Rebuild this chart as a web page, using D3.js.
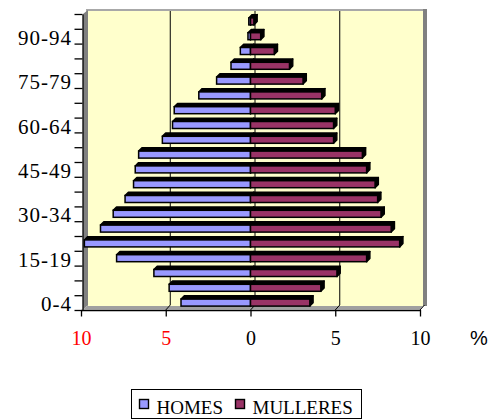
<!DOCTYPE html>
<html>
<head>
<meta charset="utf-8">
<script src="https://cdn.jsdelivr.net/npm/d3@7"></script>
<style>
  html, body { margin: 0; padding: 0; background: #ffffff; }
  svg { display: block; }
  .serif { font-family: "Liberation Serif", "Tinos", "Times New Roman", serif; }
  .sans { font-family: "Liberation Sans", Arial, sans-serif; }
</style>
</head>
<body>
<svg id="chart" width="492" height="420"></svg>
<script>
// ---- data ----
const categories = ["0-4","5-9","10-14","15-19","20-24","25-29","30-34","35-39","40-44","45-49",
                    "50-54","55-59","60-64","65-69","70-74","75-79","80-84","85-89","90-94","95-99"];
const homes    = [4.1, 4.8, 5.7, 7.9, 9.8, 8.85, 8.1, 7.4, 6.9, 6.8, 6.6, 5.2, 4.6, 4.5, 3.05, 2.0, 1.15, 0.6, 0.15, 0.1];
const mulleres = [3.5, 4.15, 5.1, 6.85, 8.8, 8.3, 7.7, 7.5, 7.35, 6.85, 6.6, 4.9, 4.9, 5.0, 4.2, 3.1, 2.3, 1.4, 0.6, 0.2];
const labelledCategories = ["0-4","15-19","30-34","45-49","60-64","75-79","90-94"];
const valueTicks = [-10, -5, 0, 5, 10];
const seriesNames = ["HOMES", "MULLERES"];
const seriesColors = ["#9999FF", "#993366"];

// ---- layout ----
const svg = d3.select("#chart");
const fx0 = 81, fx1 = 420, fyBottom = 310, fyTop = 14;   // front plane
const ddx = 5;                                            // wall depth offset
const x = d3.scaleLinear().domain([-10, 10]).range([fx0, fx1]);
const y = d3.scaleBand().domain(categories).range([fyBottom, fyTop]).padding(0);
const yIdx = d3.scaleLinear().domain([0, categories.length]).range([fyBottom, fyTop]);

// back wall
svg.append("rect").attr("x", 86).attr("y", 9).attr("width", 341).attr("height", 297).attr("fill", "#a8a8a8");
svg.append("rect").attr("x", 423).attr("y", 9).attr("width", 4).attr("height", 297).attr("fill", "#808080");
svg.append("rect").attr("x", 88).attr("y", 11).attr("width", 335).attr("height", 294).attr("fill", "#FFFFCC");
// side wall
svg.append("polygon")
  .attr("points", [[83,14],[88,10],[88,305],[83,309.5]].map(p => p.join(",")).join(" "))
  .attr("fill", "#808080");
// floor
svg.append("polygon")
  .attr("points", [[83,309.5],[88,305],[424,305],[420,309.5]].map(p => p.join(",")).join(" "))
  .attr("fill", "#a0a0a0");
svg.append("line").attr("x1", 88).attr("x2", 423).attr("y1", 305.5).attr("y2", 305.5)
  .attr("stroke", "#FFFFCC").attr("stroke-width", 1);

// gridlines on wall and floor
const grid = svg.append("g").attr("stroke", "#000").attr("stroke-width", 1).attr("fill", "none");
valueTicks.filter(v => v > -10 && v < 10).forEach(v => {
  grid.append("line").attr("x1", x(v) + ddx - 0.5).attr("x2", x(v) + ddx - 0.5)
    .attr("y1", 11).attr("y2", 305);
});
valueTicks.forEach(v => {
  if (v === -10) return;
  grid.append("line").attr("x1", x(v) + ddx - 0.5).attr("y1", 305)
    .attr("x2", x(v)).attr("y2", fyBottom);
});

// bars
const d = 3.3, bh = 7;
function drawBar(g, x0, x1, yc, color) {
  const yt = yc - bh / 2, yb = yc + bh / 2;
  g.append("polygon")
    .attr("points", [[x0, yt], [x1, yt], [x1 + d, yt - d], [x0 + d, yt - d]].map(p => p.join(",")).join(" "))
    .attr("fill", "#000").attr("stroke", "#000").attr("stroke-width", 1.4).attr("stroke-linejoin", "round");
  g.append("polygon")
    .attr("points", [[x1, yt], [x1 + d, yt - d], [x1 + d, yb - d], [x1, yb]].map(p => p.join(",")).join(" "))
    .attr("fill", "#000").attr("stroke", "#000").attr("stroke-width", 1.4).attr("stroke-linejoin", "round");
  g.append("rect").attr("x", x0).attr("y", yt).attr("width", Math.max(0.1, x1 - x0)).attr("height", bh)
    .attr("fill", color).attr("stroke", "#000").attr("stroke-width", 1.5);
}
const bars = svg.append("g");
categories.slice().reverse().forEach(c => {
  const i = categories.indexOf(c);
  const yc = y(c) + y.bandwidth() / 2;
  drawBar(bars, x(-homes[i]), x(0), yc, seriesColors[0]);
  drawBar(bars, x(0), x(mulleres[i]), yc, seriesColors[1]);
});

// left (category) axis: ticks at band boundaries
const leftAxis = d3.axisLeft(yIdx)
  .tickValues(d3.range(0, categories.length + 1))
  .tickSize(8).tickSizeOuter(0).tickFormat("");
const gl = svg.append("g").attr("transform", "translate(82.5,0)").call(leftAxis);
gl.selectAll("path, line").attr("stroke", "#000").attr("stroke-width", 1.3);

// category labels
svg.append("g").selectAll("text").data(labelledCategories).join("text")
  .attr("class", "serif")
  .attr("x", 72).attr("y", c => y(c) + y.bandwidth() / 2 + 1.5)
  .attr("text-anchor", "end").attr("dominant-baseline", "central")
  .style("font-size", "21px").style("letter-spacing", "1px")
  .attr("fill", "#000").text(c => c);

// bottom (value) axis
const bottomAxis = d3.axisBottom(x).tickValues(valueTicks).tickSize(6.5).tickSizeOuter(0)
  .tickFormat(v => Math.abs(v));
const gb = svg.append("g").attr("transform", `translate(0,${fyBottom})`).call(bottomAxis);
gb.attr("font-family", null).attr("font-size", null);
gb.select(".domain").attr("stroke", "#000").attr("stroke-width", 1.3);
gb.selectAll(".tick line").attr("stroke", "#000").attr("stroke-width", 1.3);
gb.selectAll(".tick text")
  .attr("class", "serif")
  .attr("y", 35).attr("dy", 0)
  .style("font-size", "20px")
  .attr("fill", v => v < 0 ? "#FF0000" : "#000");
svg.append("text").attr("class", "sans").attr("x", 470).attr("y", 345)
  .style("font-size", "20px").attr("fill", "#000").text("%");

// legend
const lg = svg.append("g");
lg.append("rect").attr("x", 131.5).attr("y", 389.5).attr("width", 230).attr("height", 29)
  .attr("fill", "#fff").attr("stroke", "#000").attr("stroke-width", 1);
const legendX = [139.5, 235.5];
const items = lg.selectAll("g.item").data(seriesNames).join("g").attr("class", "item");
items.append("rect").attr("x", (d, i) => legendX[i]).attr("y", 399.5).attr("width", 9).attr("height", 9)
  .attr("fill", (d, i) => seriesColors[i]).attr("stroke", "#000").attr("stroke-width", 1.4);
items.append("text").attr("class", "serif").attr("x", (d, i) => legendX[i] + 17).attr("y", 413.5)
  .style("font-size", "19px").attr("fill", "#000").text(d => d);
</script>
</body>
</html>
